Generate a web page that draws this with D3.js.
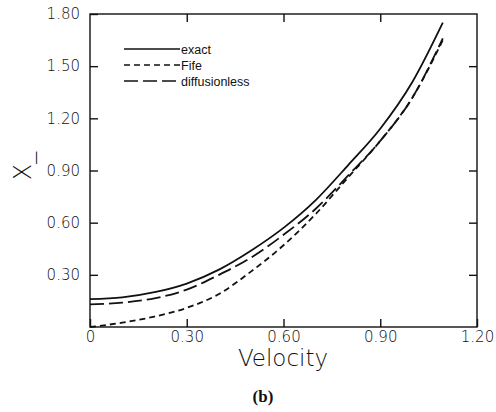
<!DOCTYPE html>
<html>
<head>
<meta charset="utf-8">
<script src="https://cdn.jsdelivr.net/npm/d3@7"></script>
<style>
  body { margin: 0; background: #fff; }
  text { font-family: "DejaVu Sans", "Liberation Sans", sans-serif; font-weight: 200; fill: #111; }
</style>
</head>
<body>
<svg id="chart" width="496" height="412"></svg>
<script>
// data
const velocity = [0, 0.1, 0.2, 0.3, 0.4, 0.5, 0.6, 0.7, 0.8, 0.9, 1.0, 1.094];
const exact = [0.16, 0.17, 0.20, 0.25, 0.33, 0.44, 0.57, 0.73, 0.93, 1.14, 1.41, 1.75];
const fife = [0.0, 0.025, 0.06, 0.11, 0.19, 0.32, 0.47, 0.65, 0.86, 1.07, 1.32, 1.65];
const diffusionless = [0.13, 0.14, 0.165, 0.215, 0.30, 0.40, 0.53, 0.68, 0.87, 1.07, 1.32, 1.66];
const xTicks = [0, 0.30, 0.60, 0.90, 1.20];
const yTicks = [0.30, 0.60, 0.90, 1.20, 1.50, 1.80];
const seriesNames = ["exact", "Fife", "diffusionless"];

const svg = d3.select("#chart");
const plotLeft = 90, plotRight = 477, plotTop = 14, plotBottom = 327;

const x = d3.scaleLinear().domain([0, 1.2]).range([plotLeft, plotRight]);
const y = d3.scaleLinear().domain([0, 1.8]).range([plotBottom, plotTop]);

const fmt = d => d === 0 ? "0" : d.toFixed(2);
const tickFont = "'DejaVu Sans', 'Liberation Sans', sans-serif";

// frame
svg.append("rect")
    .attr("x", plotLeft).attr("y", plotTop)
    .attr("width", plotRight - plotLeft).attr("height", plotBottom - plotTop)
    .attr("fill", "none").attr("stroke", "#111").attr("stroke-width", 1.4);

// axes with inward ticks
svg.append("g").attr("transform", `translate(0,${plotBottom})`)
    .call(d3.axisBottom(x).tickValues(xTicks).tickSize(-8).tickPadding(4).tickFormat(fmt))
    .call(g => g.select(".domain").remove())
    .call(g => g.selectAll("line").attr("stroke", "#111").attr("stroke-width", 1.4))
    .call(g => g.selectAll("text").attr("font-size", 15).attr("font-family", tickFont).attr("fill", "#111"));

svg.append("g").attr("transform", `translate(0,${plotTop})`)
    .call(d3.axisTop(x).tickValues([0.3, 0.6, 0.9]).tickSize(-8).tickFormat(""))
    .call(g => g.select(".domain").remove())
    .call(g => g.selectAll("line").attr("stroke", "#111").attr("stroke-width", 1.4));

svg.append("g").attr("transform", `translate(${plotLeft},0)`)
    .call(d3.axisLeft(y).tickValues(yTicks).tickSize(-8).tickPadding(10).tickFormat(fmt))
    .call(g => g.select(".domain").remove())
    .call(g => g.selectAll("line").attr("stroke", "#111").attr("stroke-width", 1.4))
    .call(g => g.selectAll("text").attr("font-size", 15).attr("font-family", tickFont).attr("fill", "#111"));

svg.append("g").attr("transform", `translate(${plotRight},0)`)
    .call(d3.axisRight(y).tickValues([0.3, 0.6, 0.9, 1.2, 1.5]).tickSize(-8).tickFormat(""))
    .call(g => g.select(".domain").remove())
    .call(g => g.selectAll("line").attr("stroke", "#111").attr("stroke-width", 1.4));

// axis titles
svg.append("text")
    .attr("x", 283).attr("y", 366)
    .attr("text-anchor", "middle").attr("font-size", 23)
    .text("Velocity");

svg.append("text")
    .attr("transform", "translate(31,166) rotate(-90)")
    .attr("text-anchor", "middle").attr("font-size", 24)
    .text("X_");

svg.append("text")
    .attr("x", 263).attr("y", 402)
    .attr("text-anchor", "middle").attr("font-size", 17)
    .style("font-weight", "bold")
    .style("font-family", "'Liberation Serif', 'Times New Roman', serif")
    .text("(b)");

// curves
const dashes = { exact: null, Fife: "6,4", diffusionless: "14,5" };
const values = { exact: exact, Fife: fife, diffusionless: diffusionless };

const line = d3.line()
    .x((d, i) => x(velocity[i]))
    .y(d => y(d))
    .curve(d3.curveMonotoneX);

seriesNames.forEach(name => {
    svg.append("path")
        .datum(values[name])
        .attr("d", line)
        .attr("fill", "none")
        .attr("stroke", "#111")
        .attr("stroke-width", 1.8)
        .attr("stroke-dasharray", dashes[name]);
});

// legend
const legend = svg.append("g").attr("transform", "translate(124,49)");
seriesNames.forEach((name, i) => {
    const row = legend.append("g").attr("transform", `translate(0,${i * 16})`);
    row.append("line")
        .attr("x1", 0).attr("x2", 56)
        .attr("stroke", "#111").attr("stroke-width", 1.6)
        .attr("stroke-dasharray", dashes[name]);
    row.append("text")
        .attr("x", 57).attr("y", 4.5)
        .attr("font-size", 12.5)
        .style("font-family", "'Liberation Sans', Arial, sans-serif")
        .style("font-weight", "normal")
        .text(name);
});
</script>
</body>
</html>
